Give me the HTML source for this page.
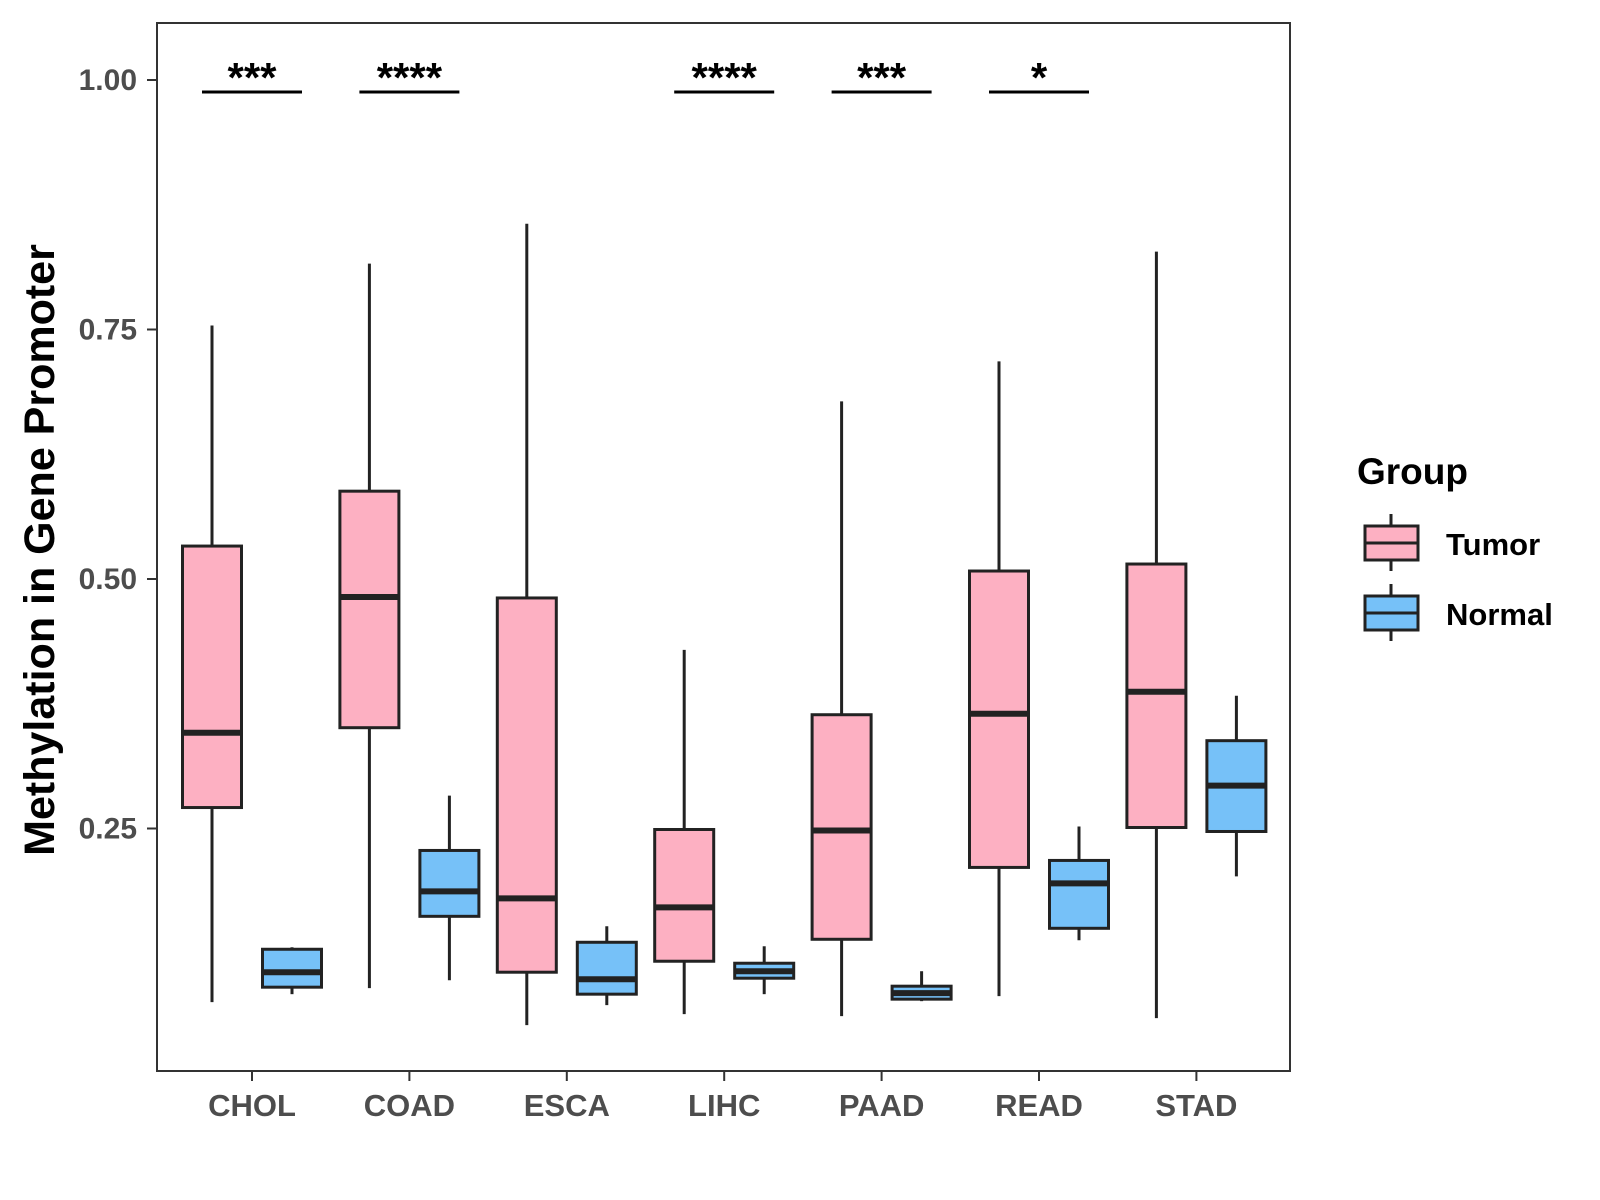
<!DOCTYPE html>
<html><head><meta charset="utf-8"><style>
body{margin:0;background:#fff}
svg{display:block;font-family:"Liberation Sans",Arial,sans-serif}
</style></head><body>
<svg id="chart" width="1600" height="1200" viewBox="0 0 1600 1200" xmlns="http://www.w3.org/2000/svg">
<rect x="157" y="23" width="1133" height="1048" fill="#fff" stroke="#333" stroke-width="2"/>
<g id="marks"></g>
<text transform="translate(54,550) rotate(-90)" text-anchor="middle" font-size="43" font-weight="bold" fill="#000">Methylation in Gene Promoter</text>
<g>
<text x="1357" y="484" font-size="37" font-weight="bold">Group</text>
<g>
<line x1="1391" y1="514" x2="1391" y2="571" stroke="#222" stroke-width="3"/>
<rect x="1365" y="526" width="53" height="34" fill="#FDB0C2" stroke="#222" stroke-width="3"/>
<line x1="1365" y1="543" x2="1418" y2="543" stroke="#222" stroke-width="3"/>
<text x="1446" y="555" font-size="31" font-weight="bold">Tumor</text></g>
<g>
<line x1="1391" y1="584" x2="1391" y2="641" stroke="#222" stroke-width="3"/>
<rect x="1365" y="596" width="53" height="34" fill="#76C1F8" stroke="#222" stroke-width="3"/>
<line x1="1365" y1="613" x2="1418" y2="613" stroke="#222" stroke-width="3"/>
<text x="1446" y="625" font-size="31" font-weight="bold">Normal</text></g>
</g>
</svg>
<script>
const categories=["CHOL","COAD","ESCA","LIHC","PAAD","READ","STAD"];
// [lower whisker, q1, median, q3, upper whisker]
const tumorStats=[[0.076,0.271,0.346,0.533,0.754],[0.090,0.351,0.482,0.588,0.816],[0.053,0.106,0.180,0.481,0.856],[0.064,0.117,0.171,0.249,0.429],[0.062,0.139,0.248,0.364,0.678],[0.082,0.211,0.365,0.508,0.718],[0.060,0.251,0.387,0.515,0.828]];
const normalStats=[[0.084,0.091,0.106,0.129,0.131],[0.098,0.162,0.187,0.228,0.283],[0.073,0.084,0.099,0.136,0.152],[0.084,0.100,0.107,0.115,0.132],[0.077,0.079,0.085,0.092,0.107],[0.138,0.150,0.195,0.218,0.252],[0.202,0.247,0.293,0.338,0.383]];
const sigLabels=["***","****","","****","***","*",""];
const yTicks=[0.25,0.50,0.75,1.00];
const sigLevel=0.988;
const NS="http://www.w3.org/2000/svg";
const svg=document.getElementById("chart"),g=document.getElementById("marks");
function y(v){return 80+(1-v)*998;}
function x(i){return 252+i*157.4;}
function mk(t,a,p){const e=document.createElementNS(NS,t);for(const k in a)e.setAttribute(k,a[k]);(p||g).appendChild(e);return e;}
yTicks.forEach(v=>{
 const t=mk("line",{x1:147,x2:157,y1:y(v),y2:y(v),stroke:"#333","stroke-width":2});
 
 
 const l=mk("text",{x:137,y:y(v)+10,"text-anchor":"end","font-size":30,"font-weight":"bold",fill:"#4d4d4d"});
 l.textContent=v.toFixed(2);
 
 
});
categories.forEach((c,i)=>{
 const t=mk("line",{x1:x(i),x2:x(i),y1:1071,y2:1081,stroke:"#333","stroke-width":2});
 
 
 const l=mk("text",{x:x(i),y:1116,"text-anchor":"middle","font-size":31,"font-weight":"bold",fill:"#4d4d4d"});
 l.textContent=c;
 
 
 [[tumorStats[i],-40,"#FDB0C2","tumor"],[normalStats[i],40,"#76C1F8","normal"]].forEach(([s,off,col,nm])=>{
  const cx=x(i)+off,w=59;
  const grp=mk("g",{});
  
  
  mk("line",{x1:cx,x2:cx,y1:y(s[4]),y2:y(s[0]),stroke:"#222","stroke-width":3},grp);
  mk("rect",{x:cx-w/2,y:y(s[3]),width:w,height:y(s[1])-y(s[3]),fill:col,stroke:"#222","stroke-width":3},grp);
  mk("line",{x1:cx-w/2,x2:cx+w/2,y1:y(s[2]),y2:y(s[2]),stroke:"#222","stroke-width":6},grp);
 });
 if(sigLabels[i]){
  const b=mk("line",{x1:x(i)-50,x2:x(i)+50,y1:y(sigLevel),y2:y(sigLevel),stroke:"#000","stroke-width":3});
  
  
  const s=mk("text",{x:x(i),y:y(sigLevel),"text-anchor":"middle","font-size":42,"font-weight":"bold",fill:"#000"});
  s.textContent=sigLabels[i];
  
  
 }
});
</script>
</body></html>
